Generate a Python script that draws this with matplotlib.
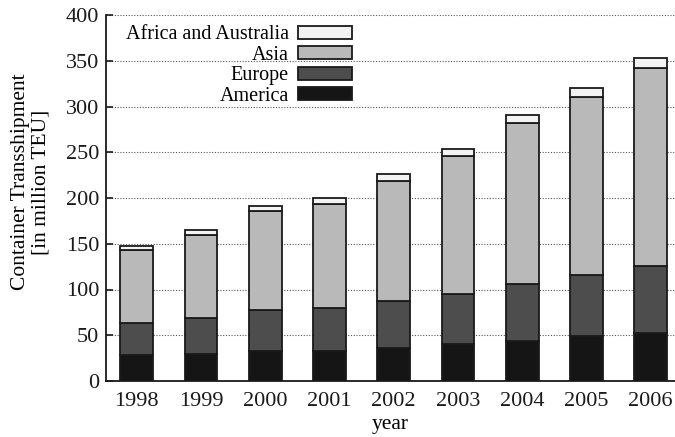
import numpy as np
import matplotlib
matplotlib.use('Agg')
import matplotlib.pyplot as plt

plt.rcParams['font.family'] = ['Liberation Serif', 'DejaVu Serif']

years = ['1998', '1999', '2000', '2001', '2002', '2003', '2004', '2005', '2006']
america = [28, 30, 33, 33, 36, 40, 44, 49, 53]
europe = [35.5, 38.7, 44.4, 46.6, 51, 55.3, 62.5, 67.3, 72.8]
asia = [79.5, 91.3, 108.1, 113.9, 131.7, 151.1, 175.5, 194.2, 216.6]
africa_australia = [5, 5.4, 5.8, 6.5, 7.3, 7.3, 8.6, 9.8, 10.2]

regions = ['America', 'Europe', 'Asia', 'Africa and Australia']
values = [america, europe, asia, africa_australia]
colors = ['#151515', '#4d4d4d', '#b9b9b9', '#f3f3f3']

fig = plt.figure(figsize=(6.75, 4.37), dpi=100)
ax = fig.add_axes([106 / 675, 1 - 381 / 437, 1 - 106 / 675, (381 - 15) / 437])

x = np.arange(len(years))
bottom = np.zeros(len(years))
for name, vals, col in zip(regions, values, colors):
    ax.bar(x, vals, 0.51, bottom=bottom, color=col, edgecolor='#1a1a1a',
           linewidth=1.3, label=name, zorder=3)
    bottom += np.array(vals)

ax.set_xlim(-0.48, 8.38)
ax.set_ylim(0, 400)
ax.set_yticks(range(0, 401, 50))
ax.set_xticks(x)
ax.set_xticklabels(years)
ax.yaxis.grid(True, linestyle=(0, (1, 1.5)), color='#555555', linewidth=0.8, zorder=0)
ax.tick_params(direction='in', length=5, width=1.2, labelsize=16, pad=5, colors='#1a1a1a')
ax.tick_params(axis='x', length=0, pad=8)

for side in ['top', 'right']:
    ax.spines[side].set_visible(False)
for side in ['left', 'bottom']:
    ax.spines[side].set_linewidth(1.3)
    ax.spines[side].set_color('#1a1a1a')

ax.set_xlabel('year', fontsize=15.5, labelpad=3)
ax.set_ylabel('Container Transshipment\n[in million TEU]', fontsize=15.5,
              linespacing=1.1)
ax.yaxis.set_label_coords(-0.097, 0.544)

# legend reversed so the top segment is listed first, labels left of the swatches
handles, labels = ax.get_legend_handles_labels()
leg = ax.legend(handles[::-1], labels[::-1], loc='upper left', bbox_to_anchor=(0.01, 1.01),
                frameon=False, markerfirst=False, fontsize=14.5, handlelength=2.7,
                handleheight=0.6, labelspacing=0.07, handletextpad=0.45,
                borderaxespad=0.3)
for t in leg.get_texts():
    t.set_ha('right')

fig.savefig('out.png', dpi=100)
